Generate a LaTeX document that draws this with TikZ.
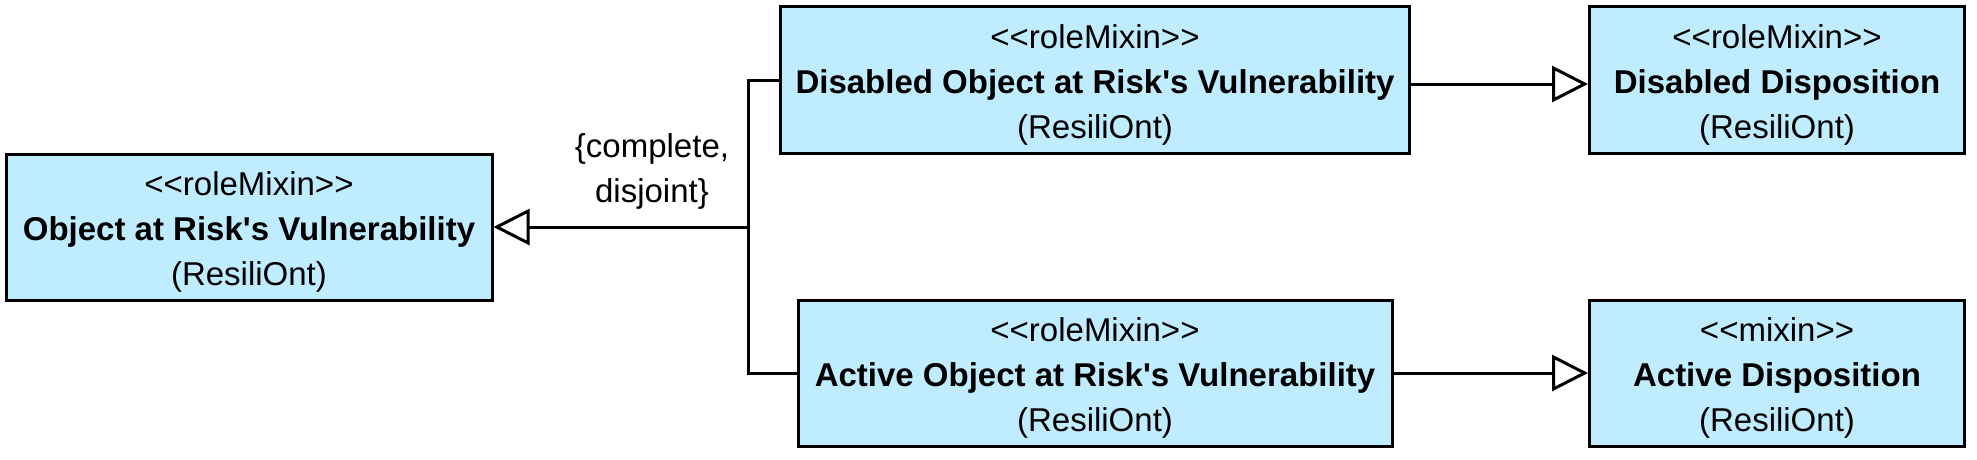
\documentclass[tikz,border=0pt]{standalone}
\usepackage{fontspec}
\newfontfamily\umlfont{Liberation Sans}
\usetikzlibrary{arrows.meta}
\definecolor{mixinblue}{RGB}{191,236,255}
\newcommand{\stereo}[1]{\rule{0pt}{34pt}<<#1>>}

\begin{document}
\begin{tikzpicture}[
  x=1pt, y=-1pt,
  class/.style={draw, line width=3pt, fill=mixinblue, align=center,
                inner sep=0pt, font=\umlfont\fontsize{33}{45}\selectfont},
  link/.style={line width=3pt},
  gen/.style={line width=3pt, -{Triangle[open, length=36pt, width=36pt]}},
  label/.style={font=\umlfont\fontsize{33}{45}\selectfont, align=center}
]
\useasboundingbox (0,0) rectangle (1977,459);

% --- Left: general role mixin ---
\node[class, minimum width=486pt, minimum height=146pt] (oarv) at (249,227)
  {\stereo{roleMixin}\\\textbf{Object at Risk's Vulnerability}\\(ResiliOnt)};

% --- Middle: specialisations ---
\node[class, minimum width=629pt, minimum height=147pt] (dobj) at (1095,80)
  {\stereo{roleMixin}\\\textbf{Disabled Object at Risk's Vulnerability}\\(ResiliOnt)};
\node[class, minimum width=594pt, minimum height=146pt] (aobj) at (1095,373)
  {\stereo{roleMixin}\\\textbf{Active Object at Risk's Vulnerability}\\(ResiliOnt)};

% --- Right: dispositions ---
\node[class, minimum width=375pt, minimum height=147pt] (ddisp) at (1777,80)
  {\stereo{roleMixin}\\\textbf{Disabled Disposition}\\(ResiliOnt)};
\node[class, minimum width=375pt, minimum height=146pt] (adisp) at (1777,373)
  {\stereo{mixin}\\\textbf{Active Disposition}\\(ResiliOnt)};

% Generalization set
\coordinate (fork) at (748,227);
\draw[link] (dobj.west) -| (fork) |- (aobj.west);
\draw[gen] (fork) -- (oarv.east);
\node[label] (gset) at (652,171) {\{complete,\\disjoint\}};

% Arrows
\draw[gen] ([yshift=-4pt]dobj.east) -- ([yshift=-4pt]ddisp.west);
\draw[gen] (aobj.east) -- (adisp.west);

\end{tikzpicture}
\end{document}
